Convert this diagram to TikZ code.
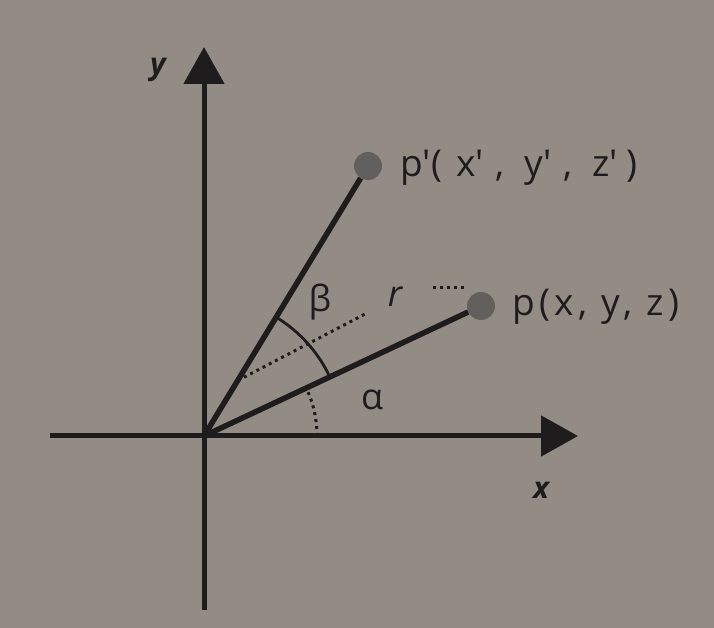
\documentclass[tikz,border=0pt]{standalone}
\usepackage{fontspec}
\newfontfamily\lab{Open Sans}
\newfontfamily\labwide{Open Sans}[LetterSpace=12]
\usetikzlibrary{arrows.meta}
\definecolor{bg}{RGB}{146,140,133}
\definecolor{ink}{RGB}{30,28,28}
\definecolor{dotc}{RGB}{98,95,92}
\tikzset{
  axis/.style={draw=ink, line width=5pt, -{Triangle[length=37pt,width=40pt]}},
  vec/.style={draw=ink, line width=5.5pt},
  ptdot/.style={circle, fill=dotc, inner sep=0pt, minimum size=28pt},
  anglearc/.style={draw=ink, line width=2.8pt},
  dotline/.style={draw=ink, line width=3pt, dash pattern=on 3pt off 4pt},
  lbl/.style={text=ink, inner sep=0pt},
  ptlbl/.style={text=ink, inner sep=0pt, anchor=west, font=\labwide\fontsize{37}{44}\selectfont},
  axlbl/.style={text=ink, inner sep=0pt, font=\lab\bfseries\itshape\fontsize{30}{36}\selectfont},
}
\begin{document}
\begin{tikzpicture}[x=1pt,y=1pt, font=\lab\fontsize{36}{42}\selectfont]
\fill[bg] (-204,-192) rectangle (510,436);
\useasboundingbox (-204,-192) rectangle (510,436);
\coordinate (O) at (0,0);
\coordinate (xs) at (-154,0);
\coordinate (xe) at (374,0);
\coordinate (ys) at (0,-174);
\coordinate (ye) at (0,389);
\draw[axis] (xs) -- (xe);
\draw[axis] (ys) -- (ye);
\node[ptdot] (p) at (277,130) {};
\node[ptdot] (pp) at (164,270) {};
\draw[vec] (O) -- (p);
\draw[vec] (O) -- (pp);
\draw[anglearc] (25.14:139) arc[start angle=25.14, end angle=58.73, radius=139];
\draw[dotline] (0:113) arc[start angle=0, end angle=25.14, radius=113];
\coordinate (d1) at (33.8,55.5);
\coordinate (d2) at (163,123);
\coordinate (d3) at (229,148);
\coordinate (d4) at (261,148);
\draw[dotline] (d1) -- (d2);
\draw[dotline] (d3) -- (d4);
\node[lbl] (beta) at (116,134) {β};
\node[lbl] (r) at (191,139) {\itshape r};
\node[lbl] (alpha) at (168,36) {α};
\node[axlbl] (ylab) at (-46,366) {y};
\node[axlbl] (xlab) at (337,-54) {x};
\node[ptlbl] (pplab) at (196,268) {p\textquotesingle(\kern14pt x\textquotesingle\kern12pt,\ \kern6pt y\textquotesingle\kern12pt,\ \kern6pt z\textquotesingle\kern8pt)};
\node[ptlbl] (plab) at (308,129) {p(x, y, z)};
\end{tikzpicture}
\end{document}
